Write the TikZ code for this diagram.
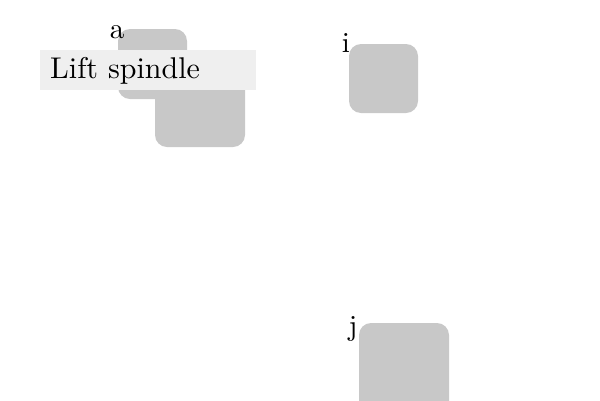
\documentclass[tikz,border=0pt]{standalone}
\usepackage{fontspec}
\setmainfont{lmroman10-regular.otf}
\begin{document}
\begin{tikzpicture}[x=1pt,y=-1pt,
  box/.style={fill=boxgray,draw=none,rounded corners=12pt},
  lbl/.style={font=\fontsize{29}{34}\selectfont,inner sep=0pt}]
\definecolor{boxgray}{HTML}{C8C8C8}
\definecolor{tagbg}{HTML}{EFEFEF}
\useasboundingbox (0,0) rectangle (600,400);
\path[box] (155,57) rectangle (245,147);
\path[box] (118,29) rectangle (187,99);
\path[box] (349,44) rectangle (418,113);
\path[box] (359,323) rectangle (449,413);
\node[fill=tagbg,minimum width=216pt,minimum height=40pt,inner sep=0pt,anchor=north west] (tag) at (40,50) {};
\node[anchor=base west,inner sep=0pt,font=\fontsize{30}{36}\selectfont] (txt) at (50,78) {Lift spindle};
\node[lbl,anchor=base] (la) at (117,38) {a};
\node[lbl,anchor=base] (li) at (346,52) {i};
\node[lbl,anchor=base] (lj) at (353,335) {j};
\end{tikzpicture}
\end{document}
